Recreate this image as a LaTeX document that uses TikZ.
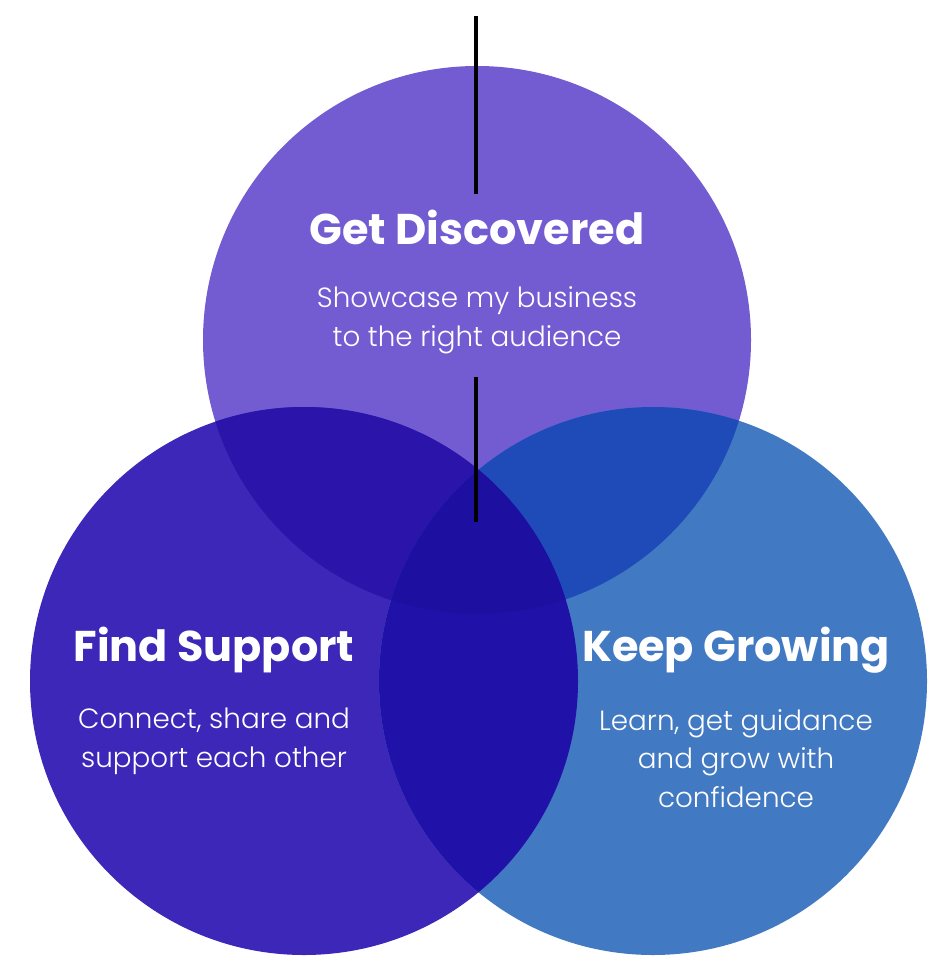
\documentclass[tikz,border=0pt]{standalone}
\usepackage{fontspec}
\setmainfont{Poppins}
\newfontfamily\titlefont{Poppins Bold}
\newfontfamily\subfont{Poppins Light}
\definecolor{cT}{HTML}{735CD2}
\definecolor{cL}{HTML}{3C27B9}
\definecolor{cR}{HTML}{4279C3}
\definecolor{cTL}{HTML}{2B14A9}
\definecolor{cTR}{HTML}{1F4BB8}
\definecolor{cLR}{HTML}{2012A8}
\definecolor{cC}{HTML}{1D10A1}
\tikzset{
  ttl/.style={text=white, font=\titlefont\fontsize{43}{48}\selectfont, inner sep=0pt, anchor=base},
  sub/.style={text=white, font=\subfont\fontsize{27.8}{38.3}\selectfont, inner sep=0pt, align=center, anchor=base},
  bar/.style={line width=4pt, black}
}
\begin{document}
\begin{tikzpicture}[x=1pt,y=-1pt]
\useasboundingbox (0,0) rectangle (950,973);
\def\rr{274}
\coordinate (cT) at (477,340);
\coordinate (cL) at (304,681);
\coordinate (cR) at (653,681);
\fill[cT] (cT) circle (\rr);
\fill[cL] (cL) circle (\rr);
\fill[cR] (cR) circle (\rr);
\begin{scope}
  \clip (cT) circle (\rr);
  \fill[cTL] (cL) circle (\rr);
\end{scope}
\begin{scope}
  \clip (cT) circle (\rr);
  \fill[cTR] (cR) circle (\rr);
\end{scope}
\begin{scope}
  \clip (cL) circle (\rr);
  \fill[cLR] (cR) circle (\rr);
\end{scope}
\begin{scope}
  \clip (cT) circle (\rr);
  \clip (cL) circle (\rr);
  \fill[cC] (cR) circle (\rr);
\end{scope}
\coordinate (a1) at (476,16);
\coordinate (a2) at (476,194);
\coordinate (b1) at (476,377);
\coordinate (b2) at (476,522);
\draw[bar] (a1) -- (a2);
\draw[bar] (b1) -- (b2);
\node[ttl] (t1) at (477,245) {Get Discovered};
\node[sub] (s1) at (477,346) {Showcase my business\\to the right audience};
\node[ttl] (t2) at (214,661) {Find Support};
\node[sub] (s2) at (214,767) {Connect, share and\\support each other};
\node[ttl] (t3) at (736,661) {Keep Growing};
\node[sub] (s3) at (736,807) {Learn, get guidance\\and grow with\\confidence};
\end{tikzpicture}
\end{document}
